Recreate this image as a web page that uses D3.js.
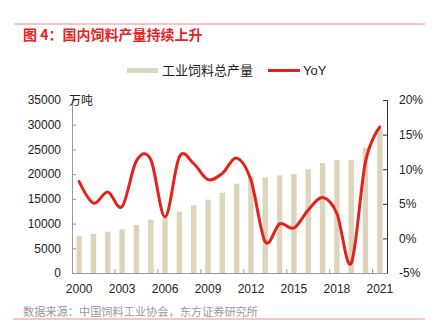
<!DOCTYPE html>
<html>
<head>
<meta charset="utf-8">
<script src="https://cdn.jsdelivr.net/npm/d3@7"></script>
<style>
  body { margin: 0; background: #fff; }
  svg { display: block; }
  text { font-family: "Liberation Sans", "Noto Sans CJK SC", sans-serif; }
  .cjk { font-family: "Noto Sans CJK SC", sans-serif; }
</style>
</head>
<body>
<svg id="chart" width="435" height="332"></svg>
<script>
// 年份
var years = ["2000","2001","2002","2003","2004","2005","2006","2007","2008","2009","2010",
  "2011","2012","2013","2014","2015","2016","2017","2018","2019","2020","2021"];
// 工业饲料总产量（万吨）
var output = [7490, 7890, 8360, 8840, 9710, 10790, 11100, 12400, 13700, 14840, 16250,
  18070, 19490, 19360, 19760, 20030, 20980, 22250, 22860, 22860, 25350, 29270];
// 同比（%）
var yoy = [8.2, 5.1, 6.7, 4.6, 11.2, 11.4, 3.1, 11.8, 10.8, 8.5, 9.4,
  11.6, 8.4, -0.5, 2.1, 1.5, 4.1, 5.9, 3.6, -3.6, 11.1, 16.1];
var leftTicks = [0, 5000, 10000, 15000, 20000, 25000, 30000, 35000];
var rightTicks = [-5, 0, 5, 10, 15, 20];
var xLabels = ["2000","2003","2006","2009","2012","2015","2018","2021"];

var svg = d3.select("#chart");
// plot box (note: "top" is taken by window.top)
var pLeft = 72, pRight = 387, pTop = 100, pBottom = 273;

// scales
var x = d3.scaleBand().domain(years).range([pLeft, pRight]).paddingInner(0.62).paddingOuter(0.31);
var step = (pRight - pLeft) / years.length;
var yL = d3.scaleLinear().domain([0, 35000]).range([pBottom, pTop]);
var yR = d3.scaleLinear().domain([-5, 20]).range([pBottom, pTop]);

// frame lines top and bottom
svg.append("line").attr("x1", 14).attr("x2", 425).attr("y1", 24).attr("y2", 24)
  .attr("stroke", "#f08a86").attr("stroke-width", 1);
svg.append("line").attr("x1", 13).attr("x2", 425).attr("y1", 319).attr("y2", 319)
  .attr("stroke", "#f08a86").attr("stroke-width", 1);

// title
svg.append("text").attr("class", "cjk").attr("x", 23).attr("y", 40)
  .attr("font-size", 14).attr("font-weight", "bold").attr("fill", "#e8231e")
  .text("图 4：国内饲料产量持续上升");

// legend
svg.append("rect").attr("x", 127).attr("y", 68).attr("width", 31).attr("height", 5).attr("fill", "#ddd4bc");
svg.append("text").attr("class", "cjk").attr("x", 162).attr("y", 75).attr("font-size", 13)
  .attr("fill", "#222").text("工业饲料总产量");
svg.append("line").attr("x1", 268).attr("x2", 300).attr("y1", 70.5).attr("y2", 70.5)
  .attr("stroke", "#e3231b").attr("stroke-width", 3);
svg.append("text").attr("x", 303).attr("y", 75).attr("font-size", 13)
  .attr("fill", "#222").text("YoY");

// bars
svg.append("g").selectAll("rect").data(output).enter().append("rect")
  .attr("x", function(d, i) { return x(years[i]); })
  .attr("y", function(d) { return yL(d); })
  .attr("width", x.bandwidth())
  .attr("height", function(d) { return pBottom - yL(d); })
  .attr("fill", "#ddd4bc");

// left axis
var axL = svg.append("g").attr("transform", "translate(" + pLeft + ",0)")
  .call(d3.axisLeft(yL).tickValues(leftTicks).tickSize(-4).tickPadding(11).tickFormat(d3.format("d")));
axL.select(".domain").attr("stroke", "#999");
axL.selectAll(".tick line").attr("stroke", "#999");
axL.selectAll("text").attr("font-size", 12).attr("fill", "#222");

// right axis
var axR = svg.append("g").attr("transform", "translate(" + pRight + ",0)")
  .call(d3.axisRight(yR).tickValues(rightTicks).tickSize(-4).tickPadding(12)
    .tickFormat(function(d) { return d + "%"; }));
axR.select(".domain").attr("stroke", "#333");
axR.selectAll(".tick line").attr("stroke", "#333");
axR.selectAll("text").attr("font-size", 12).attr("fill", "#222");

// bottom axis: labels at every 3rd year, ticks at band boundaries
svg.append("line").attr("x1", pLeft).attr("x2", pRight).attr("y1", pBottom + 0.5).attr("y2", pBottom + 0.5)
  .attr("stroke", "#999");
svg.append("g").selectAll("line").data(d3.range(3, years.length, 3)).enter().append("line")
  .attr("x1", function(i) { return pLeft + i * step; })
  .attr("x2", function(i) { return pLeft + i * step; })
  .attr("y1", pBottom - 4).attr("y2", pBottom)
  .attr("stroke", "#999");
svg.append("g").selectAll("text").data(xLabels).enter().append("text")
  .attr("x", function(d) { return x(d) + x.bandwidth() / 2; })
  .attr("y", 293)
  .attr("text-anchor", "middle").attr("font-size", 12).attr("fill", "#222")
  .text(function(d) { return d; });

// unit label
svg.append("text").attr("class", "cjk").attr("x", 69).attr("y", 105).attr("font-size", 12)
  .attr("fill", "#222").text("万吨");

// yoy line
var line = d3.line()
  .x(function(d, i) { return x(years[i]) + x.bandwidth() / 2; })
  .y(function(d) { return yR(d); })
  .curve(d3.curveCardinal.tension(0));
svg.append("path").datum(yoy).attr("d", line)
  .attr("fill", "none").attr("stroke", "#e3231b").attr("stroke-width", 3)
  .attr("stroke-linejoin", "round").attr("stroke-linecap", "round");

// source
svg.append("text").attr("class", "cjk").attr("x", 23).attr("y", 316).attr("font-size", 11.2)
  .attr("fill", "#999").text("数据来源：中国饲料工业协会，东方证券研究所");
</script>
</body>
</html>
